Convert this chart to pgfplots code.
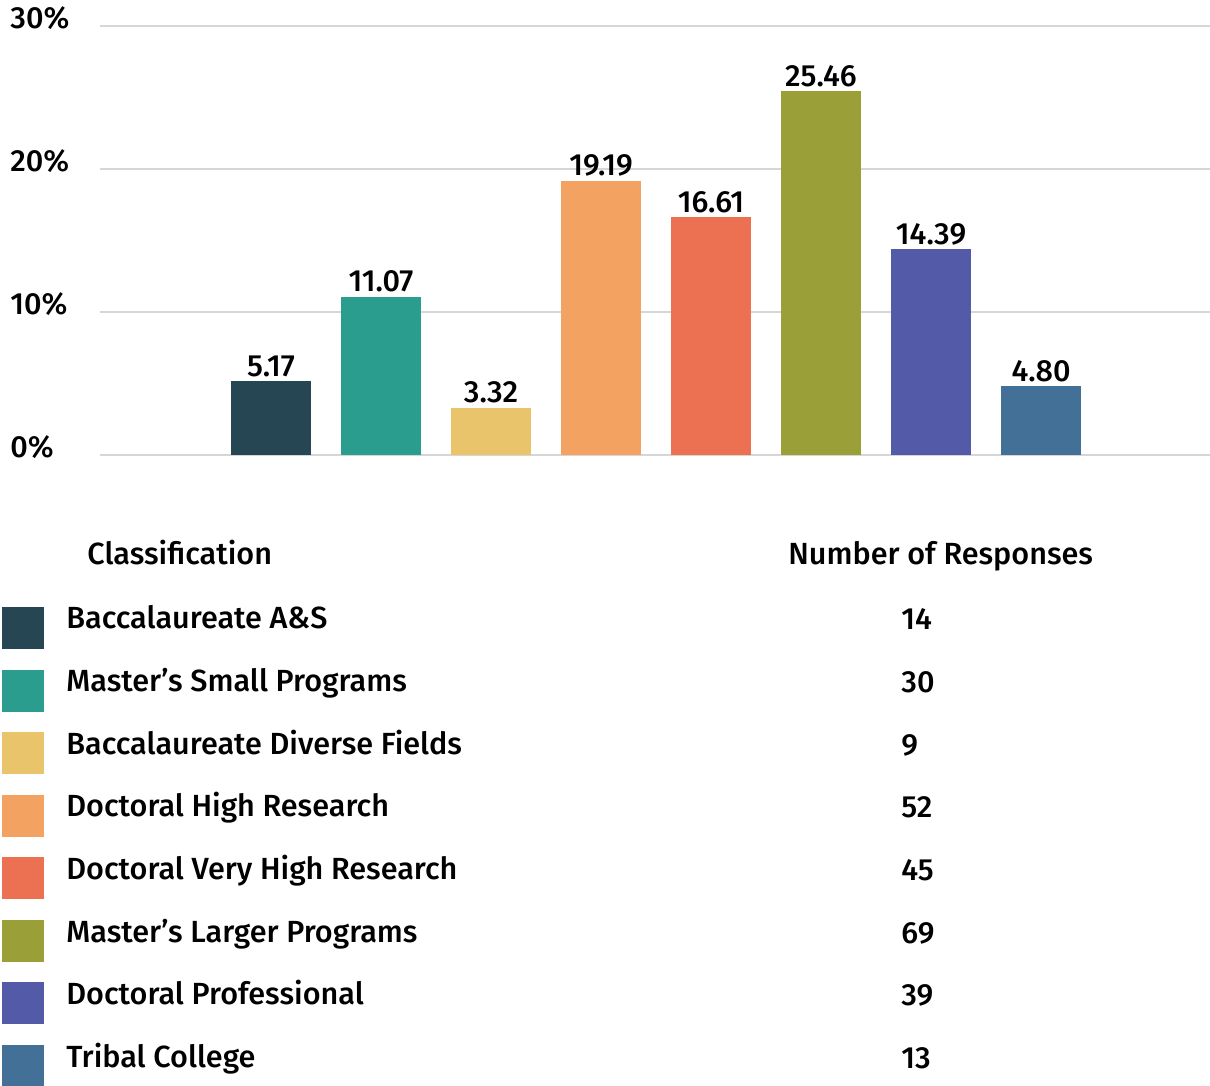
\documentclass[border=0pt]{standalone}
\usepackage{fontspec}
\setmainfont{Fira Sans}[UprightFont = * Medium, BoldFont = * SemiBold]
\usepackage{pgfplots}
\pgfplotsset{compat=1.18}

\definecolor{c1}{HTML}{264653}
\definecolor{c2}{HTML}{2A9D8F}
\definecolor{c3}{HTML}{E9C46A}
\definecolor{c4}{HTML}{F4A261}
\definecolor{c5}{HTML}{EB7152}
\definecolor{c6}{HTML}{9AA037}
\definecolor{c7}{HTML}{535BA8}
\definecolor{c8}{HTML}{427096}
\definecolor{gridgray}{HTML}{D6D6D6}

\begin{document}
\fontsize{15.3}{18}\selectfont
\begin{tikzpicture}[font=\fontsize{15.3}{18}\selectfont]
\begin{axis}[
  at={(0,0)}, anchor=south west,
  scale only axis, width=555pt, height=214.5pt,
  ymin=0, ymax=30, xmin=-1.5545, xmax=8.536,
  ybar, bar width=40pt, bar shift=0pt,
  ytick={0,10,20,30}, xtick=\empty,
  ymajorgrids, major grid style={draw=gridgray, line width=1pt},
  axis line style={draw=none}, major tick style={draw=none},
  yticklabel={\pgfmathprintnumber{\tick}\%},
  yticklabel style={anchor=west, xshift=-45pt, yshift=3.8pt, inner sep=0pt,
    /pgf/number format/assume math mode=true},
  nodes near coords,
  every node near coord/.append style={anchor=south, inner sep=2pt, black,
    /pgf/number format/.cd, fixed, fixed zerofill, precision=2, assume math mode=true},
  clip=false,
]
\addplot[fill=c1, draw=none] coordinates {(0,5.17)};
\addplot[fill=c2, draw=none] coordinates {(1,11.07)};
\addplot[fill=c3, draw=none] coordinates {(2,3.32)};
\addplot[fill=c4, draw=none] coordinates {(3,19.19)};
\addplot[fill=c5, draw=none] coordinates {(4,16.61)};
\addplot[fill=c6, draw=none] coordinates {(5,25.46)};
\addplot[fill=c7, draw=none] coordinates {(6,14.39)};
\addplot[fill=c8, draw=none] coordinates {(7,4.80)};
\end{axis}
% legend table below the plot, in pixel units of the reference
\begin{scope}[x=0.5pt, y=-0.5pt, shift={(-50pt,227.5pt)}]
\node[anchor=base west, inner sep=0] at (87,565) {Classification};
\node[anchor=base west, inner sep=0] at (788,565) {Number of Responses};
\foreach \c/\name/\n [count=\i from 0] in {
  c1/Baccalaureate A\&S/14,
  c2/Master’s Small Programs/30,
  c3/Baccalaureate Diverse Fields/9,
  c4/Doctoral High Research/52,
  c5/Doctoral Very High Research/45,
  c6/Master’s Larger Programs/69,
  c7/Doctoral Professional/39,
  c8/Tribal College/13}{
  \fill[\c] (2,607+62.5*\i) rectangle (44,649+62.5*\i);
  \node[anchor=base west, inner sep=0] at (66,629+62.6*\i) {\name};
  \node[anchor=base west, inner sep=0] at (901,630+62.6*\i) {\n};
}
\pgfresetboundingbox
\path[use as bounding box] (0,0) rectangle (1210,1086);
\end{scope}
\end{tikzpicture}
\end{document}
